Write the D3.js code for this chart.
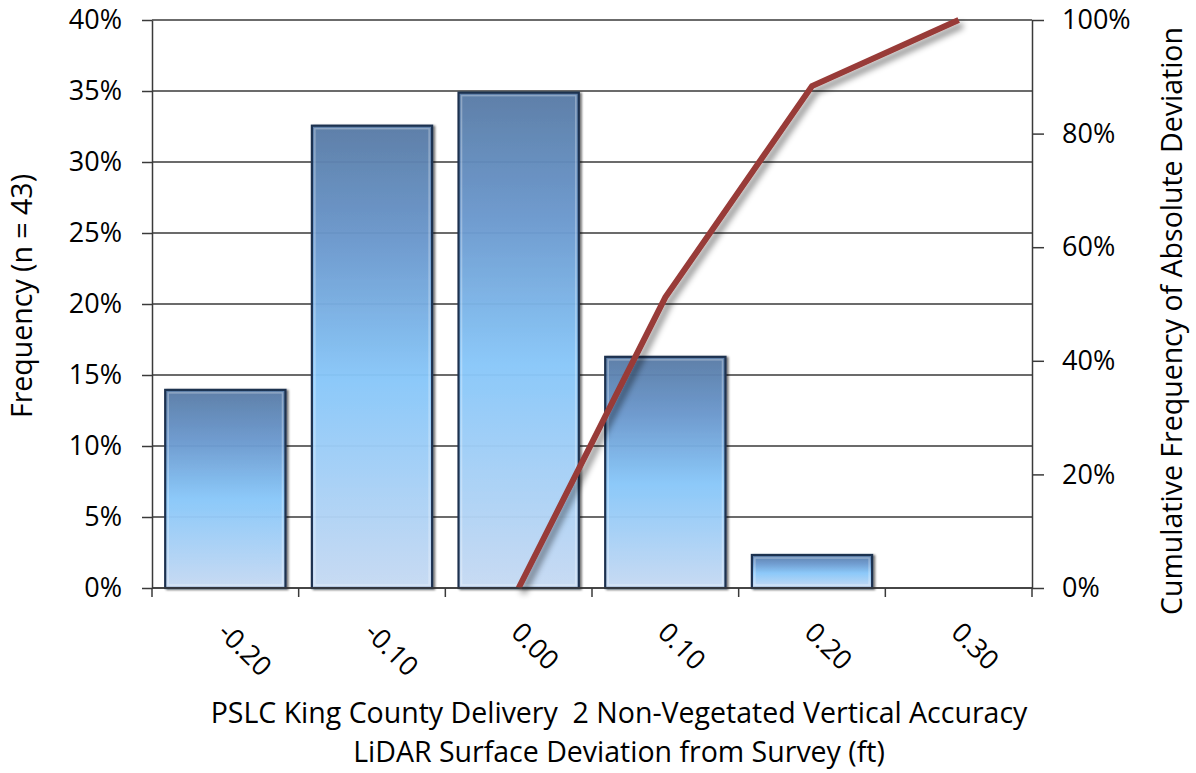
<!DOCTYPE html>
<html>
<head>
<meta charset="utf-8">
<script src="https://cdn.jsdelivr.net/npm/d3@7/dist/d3.min.js"></script>
<style>
  html, body { margin: 0; padding: 0; background: #fff; }
  svg { display: block; font-family: "Open Sans", "Noto Sans", sans-serif; }
</style>
</head>
<body>
<svg id="chart" width="1196" height="773"></svg>
<script>
// Deviation bins (ft)
const categories = ["-0.20", "-0.10", "0.00", "0.10", "0.20", "0.30"];
// Share of the 43 check points falling in each bin
const frequency = [6 / 43, 14 / 43, 15 / 43, 7 / 43, 1 / 43, 0];
// Cumulative frequency of absolute deviation
const cumCategories = ["0.00", "0.10", "0.20", "0.30"];
const cumulative = [0, 22 / 43, 38 / 43, 1];
const leftTicks = [0, 0.05, 0.10, 0.15, 0.20, 0.25, 0.30, 0.35, 0.40];
const rightTicks = [0, 0.2, 0.4, 0.6, 0.8, 1.0];

const svg = d3.select("#chart");
const W = 1196, H = 773;
const m = { top: 20, right: 164, bottom: 185, left: 152 };
const innerW = W - m.left - m.right;
const innerH = H - m.top - m.bottom;

const defs = svg.append("defs");
const grad = defs.append("linearGradient")
  .attr("id", "barFill").attr("x1", 0).attr("y1", 0).attr("x2", 0).attr("y2", 1);
grad.append("stop").attr("offset", "0%").attr("stop-color", "#5a7da8");
grad.append("stop").attr("offset", "25%").attr("stop-color", "#6c9ad0");
grad.append("stop").attr("offset", "55%").attr("stop-color", "#8acafd");
grad.append("stop").attr("offset", "100%").attr("stop-color", "#c9ddf6");

const barShadow = defs.append("filter").attr("id", "barShadow")
  .attr("x", "-10%").attr("y", "-10%").attr("width", "130%").attr("height", "130%");
barShadow.append("feDropShadow").attr("dx", 2).attr("dy", 1).attr("stdDeviation", 1.2)
  .attr("flood-color", "#000").attr("flood-opacity", 0.55);

const lineShadow = defs.append("filter").attr("id", "lineShadow")
  .attr("x", "-20%").attr("y", "-20%").attr("width", "140%").attr("height", "140%");
lineShadow.append("feDropShadow").attr("dx", 4).attr("dy", 5).attr("stdDeviation", 3)
  .attr("flood-color", "#000").attr("flood-opacity", 0.45);

const g = svg.append("g").attr("transform", `translate(${m.left},${m.top})`);

const x = d3.scaleBand().domain(categories).range([0, innerW])
  .paddingInner(0.18).paddingOuter(0.09);
const step = x.step();
const yL = d3.scaleLinear().domain([0, 0.4]).range([innerH, 0]);
const yR = d3.scaleLinear().domain([0, 1]).range([innerH, 0]);
const xMid = c => x(c) + x.bandwidth() / 2;

const axisColor = "#3a3a3a";

// gridlines
g.append("g").selectAll("line").data(leftTicks).join("line")
  .attr("x1", 0).attr("x2", innerW)
  .attr("y1", d => yL(d)).attr("y2", d => yL(d))
  .attr("stroke", axisColor).attr("stroke-width", 1.3);

// bars
const bars = g.append("g").selectAll("g").data(categories.map((c, i) => ({ c, v: frequency[i] })))
  .join("g").filter(d => d.v > 0);
bars.append("rect")
  .attr("x", d => x(d.c)).attr("y", d => yL(d.v))
  .attr("width", x.bandwidth()).attr("height", d => innerH - yL(d.v))
  .attr("fill", "url(#barFill)").attr("fill-opacity", 0.93)
  .attr("stroke", "#1d3150").attr("stroke-width", 2.2)
  .attr("filter", "url(#barShadow)");
bars.append("rect")
  .attr("x", d => x(d.c) + 3).attr("y", d => yL(d.v) + 3)
  .attr("width", x.bandwidth() - 6).attr("height", d => Math.max(0, innerH - yL(d.v) - 6))
  .attr("fill", "none").attr("stroke", "#ffffff").attr("stroke-opacity", 0.3)
  .attr("stroke-width", 1.5);

// cumulative line
const line = d3.line().x((d, i) => xMid(cumCategories[i])).y(d => yR(d));
g.append("path").datum(cumulative)
  .attr("d", line)
  .attr("fill", "none").attr("stroke", "#983a37").attr("stroke-width", 6)
  .attr("stroke-linejoin", "miter").attr("stroke-linecap", "butt")
  .attr("filter", "url(#lineShadow)");

function styleAxis(sel) {
  sel.select(".domain").attr("stroke", axisColor).attr("stroke-width", 1.5);
  sel.selectAll(".tick line").attr("stroke", axisColor).attr("stroke-width", 1.5);
  sel.selectAll("text").attr("fill", "#000").style("font-size", "27px")
    .style("font-family", "'Open Sans', sans-serif");
}

// left axis
const axL = g.append("g")
  .call(d3.axisLeft(yL).tickValues(leftTicks).tickFormat(d3.format(".0%"))
    .tickSize(10).tickSizeOuter(0).tickPadding(20));
styleAxis(axL);

// right axis
const axR = g.append("g").attr("transform", `translate(${innerW},0)`)
  .call(d3.axisRight(yR).tickValues(rightTicks).tickFormat(d3.format(".0%"))
    .tickSize(12).tickSizeOuter(0).tickPadding(18));
styleAxis(axR);

// bottom axis: ticks at bin boundaries, labels rotated
const bounds = d3.range(categories.length + 1).map(i => i * step);
const axB = g.append("g").attr("transform", `translate(0,${innerH})`);
axB.append("line").attr("x1", 0).attr("x2", innerW)
  .attr("stroke", axisColor).attr("stroke-width", 1.5);
axB.selectAll("line.tk").data(bounds).join("line").attr("class", "tk")
  .attr("x1", d => d).attr("x2", d => d).attr("y1", 0).attr("y2", 9)
  .attr("stroke", axisColor).attr("stroke-width", 1.5);
axB.selectAll("text").data(categories).join("text")
  .attr("transform", d => `translate(${xMid(d) - 9},${46}) rotate(45)`)
  .attr("text-anchor", "start")
  .style("font-size", "27px").attr("fill", "#000")
  .text(d => d);

// axis titles
const titleSize = "28.5px";
svg.append("text")
  .attr("transform", `translate(32,${296}) rotate(-90)`)
  .attr("text-anchor", "middle")
  .style("font-size", titleSize).attr("fill", "#000")
  .text("Frequency (n = 43)");

svg.append("text")
  .attr("transform", `translate(1182,${321}) rotate(-90)`)
  .attr("text-anchor", "middle")
  .style("font-size", titleSize).attr("fill", "#000")
  .text("Cumulative Frequency of Absolute Deviation");

const xt = svg.append("text").attr("text-anchor", "middle")
  .style("font-size", titleSize).style("white-space", "pre").attr("fill", "#000");
xt.append("tspan").attr("x", 619).attr("y", 723)
  .text("PSLC King County Delivery  2 Non-Vegetated Vertical Accuracy");
xt.append("tspan").attr("x", 619).attr("y", 762)
  .text("LiDAR Surface Deviation from Survey (ft)");
</script>
</body>
</html>
